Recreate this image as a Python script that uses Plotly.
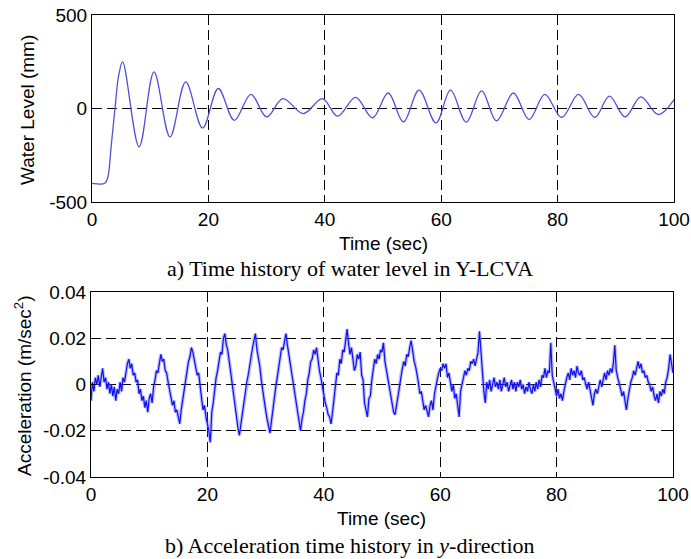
import plotly.graph_objects as go

# ---------------- data ----------------
# a) water level (mm): turning points
wl_time = [0, 2.2, 2.7, 3.3, 3.95, 4.6, 5.27, 8.1, 10.65, 13.4, 16.1, 19.0, 21.7, 24.45,
           27.3, 30.0, 32.8, 36.3, 39.6, 42.2, 45.3, 48.2, 50.9, 53.5, 56.2, 59.1, 61.6,
           64.3, 66.95, 69.5, 72.4, 75.1, 77.8, 80.7, 83.6, 86.4, 88.9, 91.6, 94.3, 97.3, 100]
wl_level = [-400, -400, -370, -200, 0, 180, 249, -205, 196, -152, 142, -104, 107, -63,
            76, -45, 53, -27, 53, -41, 60, -50, 83, -72, 98, -77, 98,
            -73, 94, -66, 83, -59, 76, -48, 75, -48, 66, -45, 62, -32, 48]

# b) acceleration, read every 0.25 s, in units of 0.001 m/sec^2
acc_step = 0.25
acc_milli = [
    -7, 1, -3, 3,   0, 4, -1, 3,   7, 1, 3, -2,   1, -4, 0, -5,   -1, -7, -2, -4,
    1, -3, 3, 1,   6, 9, 11, 7,   9, 4, 5, 1,   2, -4, -2, -7,   -5, -10, -7, -12,
    -6, -4, -8, -1,   2, 6, 5, 10,   13, 10, 11, 6,   5, 1, -2, -5,   -9, -7, -12, -11,
    -15, -17, -11, -7,   -3, 3, 6, 10,   12, 16, 14, 11,   8, 4, 5, -2,   -6, -11, -9, -14,
    -17, -20, -25, -12,   -8, -2, 3, 6,   10, 14, 13, 20,   22, 17, 15, 10,   6, 1, -3, -8,
    -13, -19, -22, -17,   -13, -7, -4, 1,   4, 9, 12, 16,   19, 22, 15, 12,   8, 2, -3, -7,
    -11, -15, -18, -21,   -16, -10, -6, -1,   3, 8, 11, 16,   15, 19, 22, 17,   13, 8, 5, 0,
    -3, -9, -11, -16,   -20, -15, -12, -7,   -4, 2, 5, 10,   11, 15, 13, 16,   10, 6, 3, -1,
    -3, -8, -10, -13,   -14, -17, -12, -7,   -2, 5, 4, 11,   9, 15, 14, 19,   24, 18, 13, 16,
    10, 6, 8, 13,   11, 14, 4, 2,   -8, -12, -14, -6,   -5, 2, 6, 11,   9, 13, 11, 15,
    14, 18, 10, 6,   3, -2, -6, -9,   -12, -13, -8, -5,   -1, 4, 7, 10,   8, 13, 12, 16,
    19, 15, 10, 8,   5, 1, -4, -3,   -7, -11, -9, -12,   -14, -9, -7, -11,   -4, -1, 3, 5,
    7, 6, 9, 7,   9, 3, 5, 1,   -3, 0, -6, -4,   -8, -14, -3, 0,   3, 6, 4, 7,
    6, 10, 9, 11,   8, 12, 14, 23,   14, 2, -3, -8,   1, -2, 2, -3,   0, 3, -1, 1,
    -2, 2, -3, 0,   3, -1, 1, -3,   0, 2, -2, 1,   -3, 1, -1, 2,   -2, 0, -4, -1,
    -3, 1, -2, -4,   0, -3, 1, -2,   2, -1, 4, 3,   7, 3, 6, 5,   18, 4, 1, -3,
    -5, -2, -6, -4,   -7, -3, 1, 3,   5, 2, 7, 4,   6, 3, 8, 5,   4, 6, 2, 3,
    0, -2, 1, -3,   -5, -9, -4, -2,   -4, 0, 2, -1,   3, 5, 2, 6,   4, 7, 5, 9,
    17, 6, 3, 1,   -2, -5, -3, -7,   -11, -6, -2, 1,   3, 6, 4, 8,   10, 7, 9, 5,
    6, 3, 4, 1,   0, -3, -1, -5,   -7, -4, -8, -3,   -5, -2, -4, 1,   3, 7, 13, 9,
    5,
]
acc_time = [i * acc_step for i in range(len(acc_milli))]
acc_value = [v / 1000.0 for v in acc_milli]

x_ticks = [0, 20, 40, 60, 80, 100]
wl_ticks = [-500, 0, 500]
wl_ticktext = ["-500", "0", "500"]
acc_ticks = [-0.04, -0.02, 0, 0.02, 0.04]
acc_ticktext = ["-0.04", "-0.02", "0", "0.02", "0.04"]

# ---------------- figure ----------------
W, H = 691, 559
def px(x):
    return x / W
def py(y):
    return 1 - y / H

fig = go.Figure()
fig.add_trace(go.Scatter(x=wl_time, y=wl_level, mode="lines",
                         line=dict(color="#5050d8", width=1.3, shape="spline", smoothing=1.0),
                         xaxis="x", yaxis="y", showlegend=False))
# soft halo + core line for the noisy acceleration record
fig.add_trace(go.Scatter(x=acc_time, y=acc_value, mode="lines",
                         line=dict(color="rgba(90,90,255,0.4)", width=3.5),
                         xaxis="x2", yaxis="y2", showlegend=False))
fig.add_trace(go.Scatter(x=acc_time, y=acc_value, mode="lines",
                         line=dict(color="#1010ee", width=1.2),
                         xaxis="x2", yaxis="y2", showlegend=False))

sans = "Liberation Sans, Arial, sans-serif"
serif = "Liberation Serif, Times New Roman, serif"
tickfont = dict(family=sans, size=19, color="black")

common_axis = dict(showline=True, linecolor="black", linewidth=1, mirror="ticks",
                   ticks="inside", ticklen=5, tickcolor="black", tickwidth=1,
                   showgrid=True, gridcolor="black", gridwidth=1, griddash="10px,5px",
                   zeroline=False, tickfont=tickfont, fixedrange=True, automargin=False)

fig.update_layout(
    width=W, height=H,
    margin=dict(l=0, r=0, t=0, b=0),
    paper_bgcolor="white", plot_bgcolor="white",
    xaxis=dict(common_axis, domain=[px(92), px(674)], range=[0, 100], anchor="y",
               tickvals=x_ticks, ticktext=[str(v) for v in x_ticks]),
    yaxis=dict(common_axis, domain=[py(202), py(15)], range=[-500, 500], anchor="x",
               tickvals=wl_ticks, ticktext=wl_ticktext),
    xaxis2=dict(common_axis, domain=[px(91), px(673)], range=[0, 100], anchor="y2",
                tickvals=x_ticks, ticktext=[str(v) for v in x_ticks]),
    yaxis2=dict(common_axis, domain=[py(477), py(292)], range=[-0.04, 0.04], anchor="x2",
                tickvals=acc_ticks, ticktext=acc_ticktext),
)

ann = [
    dict(text="Time (sec)", x=px(383), y=py(244), font=dict(family=sans, size=19, color="black")),
    dict(text="Time (sec)", x=px(382), y=py(518), font=dict(family=sans, size=19, color="black")),
    dict(text="a) Time history of water level in Y-LCVA", x=px(350), y=py(269),
         font=dict(family=serif, size=22, color="black")),
    dict(text="b) Acceleration time history in <i>y</i>-direction", x=px(350), y=py(545),
         font=dict(family=serif, size=22, color="black")),
    dict(text="Water Level (mm)", x=px(28), y=py(110), textangle=-90,
         font=dict(family=sans, size=19, color="black")),
    dict(text="Acceleration (m/sec<sup>2</sup>)", x=px(23), y=py(386), textangle=-90,
         font=dict(family=sans, size=19, color="black")),
]
for a in ann:
    fig.add_annotation(xref="paper", yref="paper", showarrow=False,
                       xanchor="center", yanchor="middle", **a)

fig.write_html("out.html", config={"displayModeBar": False},
               post_script="document.body.style.margin='0';document.body.style.overflow='hidden';")
